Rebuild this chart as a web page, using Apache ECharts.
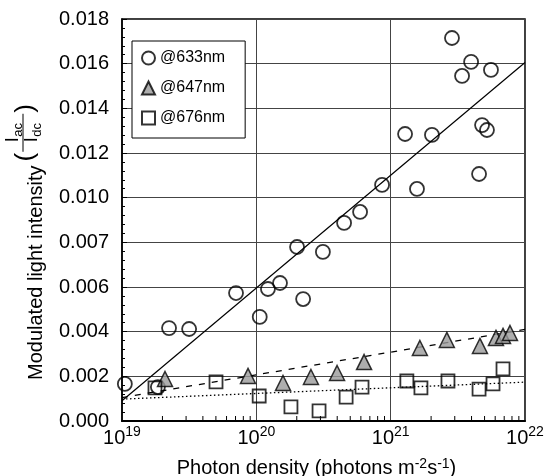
<!DOCTYPE html>
<html>
<head>
<meta charset="utf-8">
<script src="https://cdn.jsdelivr.net/npm/echarts@6/dist/echarts.min.js"></script>
<style>
html,body{margin:0;padding:0;background:#fff;}
#chart{width:549px;height:476px;}
</style>
</head>
<body>
<div id="chart"></div>
<script>
// ---- data ----
const x633 = [1.05e19,1.85e19,2.24e19,3.16e19,7.06e19,1.06e20,1.22e20,1.50e20,2.01e20,2.23e20,3.13e20,4.50e20,5.92e20,8.63e20,1.28e21,1.57e21,2.03e21,2.86e21,3.40e21,3.97e21,5.58e21,4.79e21,5.21e21,4.55e21];
const y633 = [0.00166,0.00152,0.00416,0.00412,0.00573,0.00466,0.00591,0.00618,0.00779,0.00546,0.00757,0.00887,0.00936,0.01057,0.01285,0.01039,0.01281,0.01715,0.01545,0.01608,0.01572,0.01325,0.01303,0.01106];

const x647 = [2.09e19,8.67e19,1.58e20,2.55e20,3.99e20,6.34e20,1.65e21,2.62e21,4.62e21,6.08e21,6.86e21,7.73e21];
const y647 = [0.00188,0.00202,0.00170,0.00197,0.00215,0.00264,0.00327,0.00363,0.00336,0.00372,0.00381,0.00394];

const x676 = [1.76e19,5.01e19,1.05e20,1.81e20,2.93e20,4.66e20,6.12e20,1.32e21,1.68e21,2.67e21,4.55e21,5.78e21,6.86e21];
const y676 = [0.00148,0.00175,0.00112,0.00063,0.00045,0.00107,0.00152,0.00179,0.00148,0.00179,0.00143,0.00166,0.00233];

const fitX = [1e19, 1e22];
const fit633 = [0.00091, 0.01605];
const fit647 = [0.00105, 0.00410];
const fit676 = [0.00098, 0.00174];

const seriesNames = ['@633nm','@647nm','@676nm'];
const yTickLabels = ['0.000','0.002','0.004','0.006','0.007','0.010','0.012','0.014','0.016','0.018'];
const xTickExponents = [19, 20, 21, 22];
const xMinorTicks = [2e19,3e19,4e19,5e19,6e19,7e19,8e19,9e19,2e20,3e20,4e20,5e20,6e20,7e20,8e20,9e20,2e21,3e21,4e21,5e21,6e21,7e21,8e21,9e21];

// ---- build ----
const FONT = '"Liberation Sans", Arial, Helvetica, sans-serif';
const zip = (xs, ys) => xs.map((x, i) => [x, ys[i]]);

const chart = echarts.init(document.getElementById('chart'), null, {renderer: 'canvas'});

function measure(text, size) {
  const c = document.createElement('canvas').getContext('2d');
  c.font = size + 'px ' + FONT;
  return c.measureText(text).width;
}

// rotated y-axis name with fraction
const NF = 20;
const t1 = 'Modulated light intensity';
const w1 = measure(t1, NF);
const parX = w1 + 4;
const fracX = parX + measure('(', 26) + 1;
const fracW = 38;
const closeX = fracX + fracW + 1;
const numW = measure('I', 18) + measure('ac', 13);
const denW = measure('I', 18) + measure('dc', 13);
function txt(x, y, s, size) {
  return {type: 'text', x: x, y: y, style: {text: s, font: size + 'px ' + FONT, fill: '#000', textAlign: 'left', textVerticalAlign: 'middle'}};
}
const nX = fracX + (fracW - numW) / 2;
const dX = fracX + (fracW - denW) / 2;
const yNameGroup = {
  type: 'group',
  x: 36, y: 380,
  rotation: Math.PI / 2,
  children: [
    txt(0, 0, t1, NF),
    txt(parX, -10, '(', 26),
    txt(nX, -23, 'I', 18),
    txt(nX + measure('I', 18) + 0.5, -18, 'ac', 13),
    {type: 'line', shape: {x1: fracX, y1: -13, x2: fracX + fracW, y2: -13}, style: {stroke: '#000', lineWidth: 1}},
    txt(dX, -4, 'I', 18),
    txt(dX + measure('I', 18) + 0.5, 1, 'dc', 13),
    txt(closeX, -10, ')', 26)
  ]
};

const option = {
  backgroundColor: '#fff',
  animation: false,
  textStyle: {fontFamily: FONT},
  grid: {left: 122, right: 24, top: 19, bottom: 55, show: true, borderColor: '#000', borderWidth: 1.5, containLabel: false, outerBoundsMode: 'none'},
  legend: {
    data: seriesNames,
    orient: 'vertical',
    left: 132, top: 41,
    padding: [9, 20, 12, 9],
    itemGap: 14,
    itemWidth: 13, itemHeight: 13,
    backgroundColor: '#fff',
    borderColor: '#000', borderWidth: 1, borderRadius: 0,
    textStyle: {fontSize: 16, color: '#000', fontFamily: FONT},
    selectedMode: false
  },
  xAxis: {
    type: 'log', logBase: 10, min: 1e19, max: 1e22,
    axisLine: {show: true, lineStyle: {color: '#000', width: 2}},
    axisTick: {show: false},
    splitLine: {show: true, lineStyle: {color: '#444', width: 1}},
    axisLabel: {
      margin: 4,
      color: '#000',
      formatter: function (v) {
        const e = Math.round(Math.log10(v));
        return xTickExponents.indexOf(e) >= 0 ? '10{sup|' + e + '}' : '';
      },
      rich: {
        sup: {fontSize: 14, verticalAlign: 'top', lineHeight: 14, fontFamily: FONT, color: '#000'}
      },
      fontSize: 20, lineHeight: 26, fontFamily: FONT
    },
    name: 'Photon density (photons m{sup|-2}s{sup|-1})',
    nameLocation: 'middle',
    nameGap: 36,
    nameTextStyle: {
      fontSize: 20, color: '#000', fontFamily: FONT, lineHeight: 22, padding: [0, 14, 0, 0],
      rich: {sup: {fontSize: 14, verticalAlign: 'top', lineHeight: 14, fontFamily: FONT, color: '#000'}}
    }
  },
  yAxis: {
    type: 'value', min: 0, max: 0.018, interval: 0.002,
    axisLine: {show: true, lineStyle: {color: '#000', width: 1.5}},
    axisTick: {show: true, inside: true, length: 5, lineStyle: {color: '#000'}},
    minorTick: {show: true, splitNumber: 5, length: 3, lineStyle: {color: '#000'}},
    splitLine: {show: true, lineStyle: {color: '#444', width: 1}},
    axisLabel: {
      margin: 13, color: '#000', fontSize: 20, fontFamily: FONT,
      formatter: function (v) { return yTickLabels[Math.round(v / 0.002)]; }
    }
  },
  graphic: [yNameGroup],
  series: [
    {
      name: 'fit633', type: 'line', data: zip(fitX, fit633), showSymbol: false, silent: true,
      lineStyle: {color: '#000', width: 1.2, type: 'solid'}, z: 2
    },
    {
      name: 'fit647', type: 'line', data: zip(fitX, fit647), showSymbol: false, silent: true,
      lineStyle: {color: '#000', width: 1.3, type: [6, 7]}, z: 2
    },
    {
      name: 'fit676', type: 'line', data: zip(fitX, fit676), showSymbol: false, silent: true,
      lineStyle: {color: '#000', width: 1.3, type: [1.5, 2.5]}, z: 2
    },
    {
      name: '@633nm', type: 'scatter', data: zip(x633, y633), symbol: 'circle', symbolSize: 14,
      itemStyle: {color: 'rgba(255,255,255,0)', borderColor: '#000', borderWidth: 1.8}, z: 3
    },
    {
      name: '@647nm', type: 'scatter', data: zip(x647, y647), symbol: 'triangle', symbolSize: 15,
      itemStyle: {color: '#9a9a9a', borderColor: '#000', borderWidth: 1.5}, z: 3
    },
    {
      name: '@676nm', type: 'scatter', data: zip(x676, y676), symbol: 'rect', symbolSize: 13,
      itemStyle: {color: 'rgba(255,255,255,0)', borderColor: '#000', borderWidth: 1.8}, z: 3
    },
    {
      name: 'xminor', type: 'custom', silent: true, clip: false, z: 4,
      data: xMinorTicks.map(v => [v, 0]),
      renderItem: function (params, api) {
        const p = api.coord([api.value(0), 0]);
        return {type: 'line', shape: {x1: p[0], y1: p[1], x2: p[0], y2: p[1] - 5}, style: {stroke: '#000', lineWidth: 1}};
      }
    }
  ]
};
chart.setOption(option);
</script>
</body>
</html>
